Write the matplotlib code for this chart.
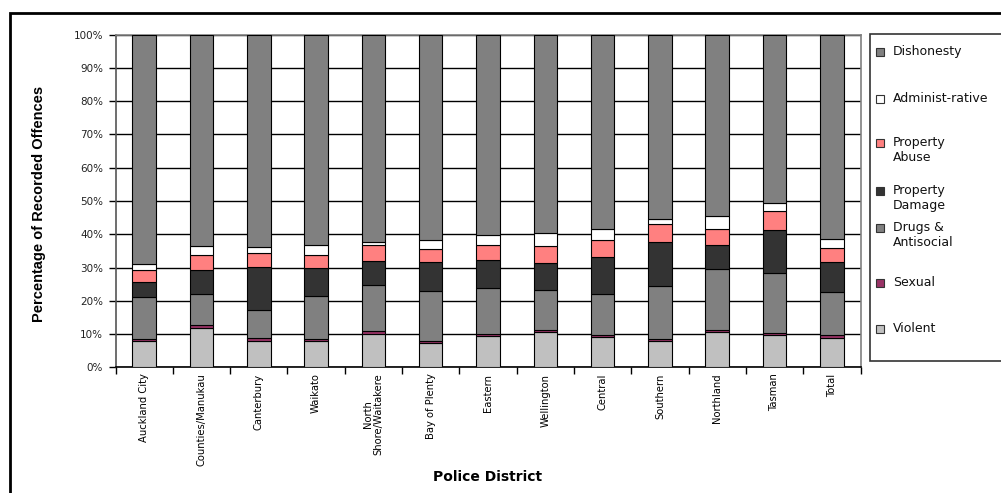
import numpy as np
import matplotlib.pyplot as plt
from matplotlib.patches import Rectangle

# Offence mix by police district (% of recorded offences)
districts = ["Auckland City", "Counties/Manukau", "Canterbury", "Waikato",
             "North\nShore/Waitakere", "Bay of Plenty", "Eastern", "Wellington",
             "Central", "Southern", "Northland", "Tasman", "Total"]

violent = [8.0, 11.8, 7.9, 7.9, 10.1, 7.2, 9.4, 10.5, 9.0, 7.8, 10.5, 9.6, 8.9]
sexual = [0.5, 0.8, 0.8, 0.6, 0.7, 0.6, 0.5, 0.8, 0.7, 0.6, 0.8, 0.8, 0.7]
drugs = [12.6, 9.4, 8.6, 12.8, 13.8, 15.1, 13.8, 11.8, 12.4, 15.9, 18.2, 18.0, 12.9]
prop_damage = [4.6, 7.3, 12.9, 8.5, 7.3, 8.7, 8.6, 8.2, 11.0, 13.3, 7.2, 12.9, 9.1]
prop_abuse = [3.5, 4.4, 4.3, 3.9, 4.8, 3.9, 4.4, 5.1, 5.1, 5.4, 4.9, 5.8, 4.4]
admin = [1.8, 2.7, 1.8, 3.2, 0.9, 2.9, 3.0, 3.9, 3.3, 1.7, 4.0, 2.2, 2.6]
dishonesty = [69.0, 63.6, 63.7, 63.1, 62.4, 61.6, 60.3, 59.7, 58.5, 55.3, 54.4, 50.7, 61.4]

series = [
    ("Violent", violent, "#c0c0c0"),
    ("Sexual", sexual, "#993366"),
    ("Drugs &\nAntisocial", drugs, "#808080"),
    ("Property\nDamage", prop_damage, "#333333"),
    ("Property\nAbuse", prop_abuse, "#ff8080"),
    ("Administ-rative", admin, "#ffffff"),
    ("Dishonesty", dishonesty, "#808080"),
]

W, H = 1001, 493
fig = plt.figure(figsize=(W / 100, H / 100), dpi=100)


def px(x, y):
    # pixel position (from top-left) -> figure fraction
    return x / W, 1 - y / H


ax_l, ax_r, ax_t, ax_b = 115.5, 860.5, 34.7, 367.3
ax = fig.add_axes([ax_l / W, 1 - ax_b / H, (ax_r - ax_l) / W, (ax_b - ax_t) / H])

x = np.arange(len(districts))
bottom = np.zeros(len(districts))
for name, vals, color in series:
    vals = np.array(vals)
    ax.bar(x, vals / 100, 0.41, bottom=bottom / 100, color=color,
           edgecolor="black", linewidth=0.8, zorder=3)
    bottom += vals

ax.set_xlim(-0.5, len(districts) - 0.5)
ax.set_ylim(0, 1)
ax.set_yticks(np.linspace(0, 1, 11))
ax.set_yticklabels([f"{v}%" for v in range(0, 101, 10)], fontsize=7.5, color="#222222")
ax.yaxis.grid(True, color="black", linewidth=1.0, zorder=0)

ax.set_xticks(x)
ax.set_xticklabels(districts, rotation=90, fontsize=7.2, va="top", ha="center",
                   linespacing=1.0)
ax.set_xticks(np.arange(len(districts) + 1) - 0.5, minor=True)
ax.tick_params(axis="x", which="major", length=0, pad=4.5)
ax.tick_params(axis="x", which="minor", length=5, width=1, direction="out")
ax.tick_params(axis="y", length=5, width=1, direction="out", pad=4)

for side in ("top", "right"):
    ax.spines[side].set_color("#808080")
ax.spines["left"].set_color("#555555")
ax.spines["bottom"].set_color("black")
for sp in ax.spines.values():
    sp.set_linewidth(1.2)

ax.set_ylabel("Percentage of Recorded Offences", fontsize=10.5, fontweight="bold",
              family="Liberation Sans")
ax.yaxis.set_label_coords((46 - ax_l) / (ax_r - ax_l), 0.49)
ax.set_xlabel("Police District", fontsize=10, fontweight="bold")
ax.xaxis.set_label_coords(0.5, -(470 - ax_b) / (ax_b - ax_t))

# legend box on the right, entries drawn top to bottom
lx0, ly0 = px(870, 361)
lx1, ly1 = px(1010, 34)
fig.patches.append(Rectangle((lx0, ly0), lx1 - lx0, ly1 - ly0, transform=fig.transFigure,
                             facecolor="white", edgecolor="#333333", linewidth=1.2))
entry_y = [52, 99, 143, 191, 228, 283, 329]
for (name, vals, color), yy in zip(series[::-1], entry_y):
    mx, my = px(876, yy + 3.5)
    fig.patches.append(Rectangle((mx, my), 7.5 / W, 7.5 / H, transform=fig.transFigure,
                                 facecolor=color, edgecolor="#333333", linewidth=0.8))
    tx, ty = px(893, yy - 6.5)
    fig.text(tx, ty, name, fontsize=9, va="top", ha="left", linespacing=1.2,
             color="#111111")

# outer frame
bx, by = px(10, 1000)
fx, fy = px(10, 13)
fig.patches.append(Rectangle((fx, by), 1.2, fy - by, transform=fig.transFigure,
                             facecolor="none", edgecolor="black", linewidth=2))

fig.savefig("out.png", dpi=100)
